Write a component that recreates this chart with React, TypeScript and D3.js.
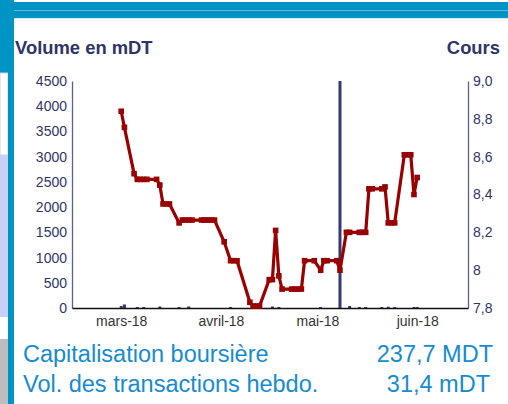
import React, { useRef, useEffect } from 'react';
import * as d3 from 'd3';

// cours (price) - daily closes
const priceDates = [
  '2018-03-01', '2018-03-02', '2018-03-05', '2018-03-06', '2018-03-07', '2018-03-08', '2018-03-09',
  '2018-03-12', '2018-03-13', '2018-03-14', '2018-03-15', '2018-03-16', '2018-03-19', '2018-03-20',
  '2018-03-21', '2018-03-22', '2018-03-23', '2018-03-26', '2018-03-27', '2018-03-28', '2018-03-29',
  '2018-03-30', '2018-04-02', '2018-04-04', '2018-04-05', '2018-04-06', '2018-04-10', '2018-04-11',
  '2018-04-12', '2018-04-13', '2018-04-16', '2018-04-17', '2018-04-18', '2018-04-19', '2018-04-20',
  '2018-04-23', '2018-04-24', '2018-04-25', '2018-04-26', '2018-04-27', '2018-04-30', '2018-05-02',
  '2018-05-03', '2018-05-04', '2018-05-07', '2018-05-08', '2018-05-10', '2018-05-11', '2018-05-14',
  '2018-05-15', '2018-05-16', '2018-05-17', '2018-05-18', '2018-05-21', '2018-05-22', '2018-05-23',
  '2018-05-24', '2018-05-25', '2018-05-28', '2018-05-29', '2018-05-30', '2018-05-31', '2018-06-01'
];
const priceValues = [
  8.84, 8.755, 8.51, 8.48, 8.48, 8.48, 8.48,
  8.48, 8.45, 8.35, 8.35, 8.35, 8.25, 8.265,
  8.265, 8.265, 8.265, 8.265, 8.265, 8.265, 8.265,
  8.265, 8.15, 8.05, 8.05, 8.05, 7.83, 7.81,
  7.81, 7.81, 7.95, 7.95, 8.21, 7.97, 7.90,
  7.90, 7.90, 7.90, 7.90, 8.05, 8.05, 8.0,
  8.05, 8.05, 8.05, 8.0, 8.2, 8.2, 8.2,
  8.2, 8.2, 8.43, 8.43, 8.43, 8.44, 8.25,
  8.25, 8.25, 8.61, 8.61, 8.61, 8.40, 8.49
];

// volume en mDT
const volDates = [
  '2018-03-01', '2018-03-02', '2018-03-06', '2018-03-08', '2018-03-13', '2018-03-19', '2018-03-22',
  '2018-04-04', '2018-04-17', '2018-04-19', '2018-05-02', '2018-05-08', '2018-05-11', '2018-05-14',
  '2018-05-16', '2018-05-21', '2018-05-23', '2018-05-25', '2018-05-31', '2018-06-01'
];
const volValues = [
  40, 70, 20, 20, 30, 20, 30,
  20, 30, 20, 20, 5200, 40, 20,
  20, 20, 25, 20, 20, 20
];

const volTicks = [0, 500, 1000, 1500, 2000, 2500, 3000, 3500, 4000, 4500];
const coursTicks = [7.8, 8.0, 8.2, 8.4, 8.6, 8.8, 9.0];
const coursLabels = ['7,8', '8', '8,2', '8,4', '8,6', '8,8', '9,0'];
const monthTicks = ['2018-03-01', '2018-04-01', '2018-05-01', '2018-06-01'];
const monthLabels = ['mars-18', 'avril-18', 'mai-18', 'juin-18'];

function App() {
  const svgRef = useRef(null);

  useEffect(() => {
    const svg = d3.select(svgRef.current);
    svg.selectAll('*').remove();

    const W = 508, H = 404;
    const left = 72, right = 468, top = 81, bottom = 308;
    const blue = '#0094c4';
    const navy = '#2f3468';
    const font = 'Liberation Sans, Arial, sans-serif';
    const parse = d3.timeParse('%Y-%m-%d');

    const x = d3.scaleTime()
      .domain([new Date(2018, 1, 13, 17), new Date(2018, 5, 16, 19)])
      .range([left, right]);
    const yVol = d3.scaleLinear().domain([0, 4500]).range([bottom, top]).clamp(true);
    const yCours = d3.scaleLinear().domain([7.8, 9.0]).range([bottom, top]);

    // page decoration
    svg.append('rect').attr('width', W).attr('height', H).attr('fill', 'white');
    svg.append('rect').attr('x', 0).attr('y', 2).attr('width', W).attr('height', 16).attr('fill', blue);
    svg.append('rect').attr('x', 0).attr('y', 10).attr('width', W).attr('height', 1).attr('fill', '#5ab8dc');
    svg.append('rect').attr('x', 0).attr('y', 18).attr('width', W).attr('height', 1).attr('fill', '#c4e6f3');
    svg.append('rect').attr('x', 0).attr('y', 0).attr('width', 8).attr('height', 73).attr('fill', blue);
    svg.append('rect').attr('x', 0).attr('y', 73).attr('width', 8).attr('height', 82)
      .attr('fill', 'white').attr('stroke', '#d0d0d0');
    svg.append('rect').attr('x', 0).attr('y', 155).attr('width', 8).attr('height', 162).attr('fill', '#c8d0f8');
    svg.append('rect').attr('x', 0).attr('y', 339).attr('width', 8).attr('height', 65).attr('fill', '#bdbdbd');
    svg.append('rect').attr('x', 8).attr('y', 0).attr('width', 6).attr('height', H).attr('fill', blue);

    // titles
    svg.append('text').attr('x', 15).attr('y', 54).text('Volume en mDT')
      .attr('font-family', font).attr('font-weight', 'bold').attr('font-size', 18.4).attr('fill', navy);
    svg.append('text').attr('x', 500).attr('y', 54).attr('text-anchor', 'end').text('Cours')
      .attr('font-family', font).attr('font-weight', 'bold').attr('font-size', 18.4).attr('fill', navy);

    // left axis
    const gl = svg.append('g').attr('transform', `translate(${left},0)`)
      .call(d3.axisLeft(yVol).tickValues(volTicks).tickSize(0).tickPadding(5).tickFormat(d3.format('d')));
    gl.select('.domain').attr('stroke', '#5a5f8c').attr('stroke-width', 1.3);
    gl.selectAll('text').attr('font-family', font).attr('font-size', 14).attr('fill', navy);

    // right axis
    const gr = svg.append('g').attr('transform', `translate(${right},0)`)
      .call(d3.axisRight(yCours).tickValues(coursTicks).tickSize(0).tickPadding(5)
        .tickFormat((d, i) => coursLabels[i]));
    gr.select('.domain').attr('stroke', '#5a5f8c').attr('stroke-width', 1.3);
    gr.selectAll('text').attr('font-family', font).attr('font-size', 14).attr('fill', navy);

    // volume bars
    const vol = volDates.map((d, i) => ({ date: parse(d), v: volValues[i] }));
    svg.append('g').selectAll('rect').data(vol).join('rect')
      .attr('x', d => x(d.date) - 1.5)
      .attr('width', 3)
      .attr('y', d => yVol(d.v))
      .attr('height', d => bottom - yVol(d.v))
      .attr('fill', '#333a70');

    // x axis
    const gx = svg.append('g').attr('transform', `translate(0,${bottom})`)
      .call(d3.axisBottom(x).tickValues(monthTicks.map(d => parse(d))).tickSize(0).tickPadding(8)
        .tickFormat((d, i) => monthLabels[i]));
    gx.select('.domain').attr('stroke', '#111').attr('stroke-width', 1.3);
    gx.selectAll('text').attr('font-family', font).attr('font-size', 14).attr('fill', '#333');

    // price line
    const price = priceDates.map((d, i) => ({ date: parse(d), v: priceValues[i] }));
    const line = d3.line().x(d => x(d.date)).y(d => yCours(d.v));
    svg.append('path').datum(price)
      .attr('d', line)
      .attr('fill', 'none')
      .attr('stroke', '#990000')
      .attr('stroke-width', 3.2);
    svg.append('g').selectAll('rect').data(price).join('rect')
      .attr('x', d => x(d.date) - 2.8)
      .attr('y', d => yCours(d.v) - 2.8)
      .attr('width', 5.6).attr('height', 5.6)
      .attr('fill', '#990000');

    // bottom info
    const info = [
      ['Capitalisation boursière', '237,7 MDT', 362, 493],
      ['Vol. des transactions hebdo.', '31,4 mDT', 392, 490]
    ];
    info.forEach(r => {
      svg.append('text').attr('x', 23).attr('y', r[2]).text(r[0])
        .attr('font-family', font).attr('font-size', 23.5).attr('fill', '#168bd2');
      svg.append('text').attr('x', r[3]).attr('y', r[2]).attr('text-anchor', 'end').text(r[1])
        .attr('font-family', font).attr('font-size', 23.5).attr('fill', '#168bd2');
    });
  }, []);

  return (
    <div style={{ position: 'absolute', left: 0, top: 0 }}>
      <svg ref={svgRef} width={508} height={404} style={{ display: 'block' }}></svg>
    </div>
  );
}

export default App;
